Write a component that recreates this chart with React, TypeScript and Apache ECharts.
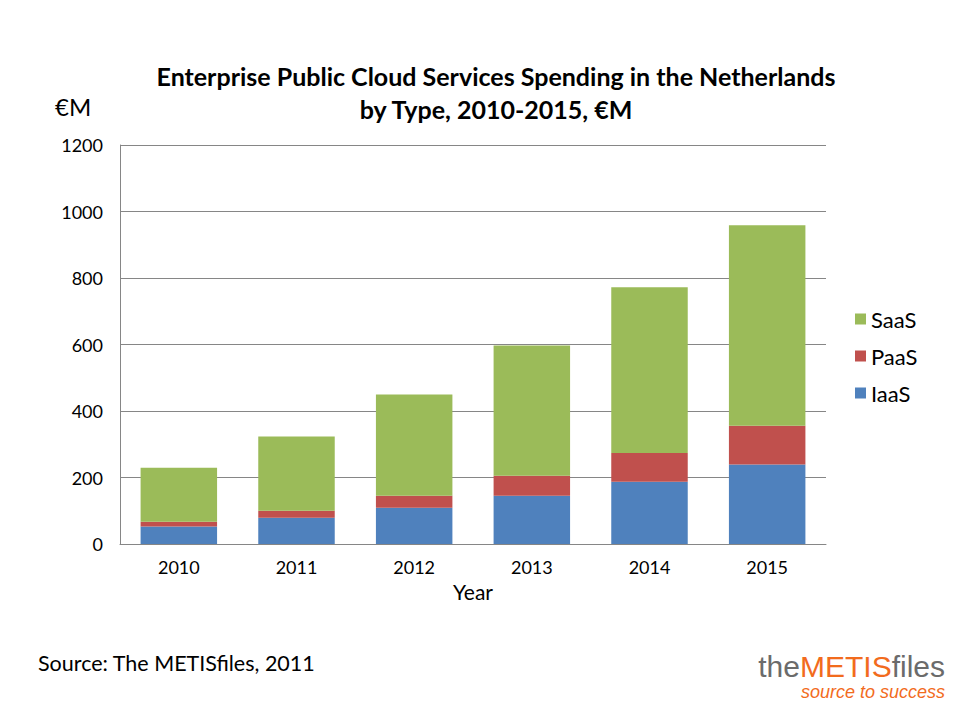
import React, { useEffect, useRef } from "react";
import * as echarts from "echarts";

const years = ["2010", "2011", "2012", "2013", "2014", "2015"];
const iaas = [53, 79, 109, 145, 187, 239];
const paas = [14, 21, 36, 60, 87, 117];
const saas = [162, 223, 305, 392, 498, 603];
const yTicks = { min: 0, max: 1200, interval: 200 };

const FONT = "Lato, 'Open Sans', sans-serif";
const GRAY = "#868686";

export default function App() {
  const ref = useRef<HTMLDivElement>(null);
  useEffect(() => {
    if (!ref.current) return;
    const chart = echarts.init(ref.current, undefined, { renderer: "svg" });
    chart.setOption({
      animation: false,
      backgroundColor: "#ffffff",
      textStyle: { fontFamily: FONT },
      title: {
        text: "Enterprise Public Cloud Services Spending in the Netherlands\nby Type, 2010-2015, €M",
        left: 491,
        top: 54,
        textAlign: "center",
        textStyle: { fontFamily: FONT, fontSize: 25, fontWeight: "bold", color: "#000", lineHeight: 33 },
      },
      legend: {
        orient: "vertical",
        left: 850,
        top: 303,
        data: ["SaaS", "PaaS", "IaaS"],
        itemWidth: 11,
        itemHeight: 11,
        itemGap: 15,
        icon: "rect",
        textStyle: { fontFamily: FONT, fontSize: 22, color: "#000", lineHeight: 22 },
      },
      grid: { left: 120, right: 134, top: 145, bottom: 176, containLabel: false },
      xAxis: {
        type: "category",
        data: years,
        axisLine: { lineStyle: { color: GRAY, width: 1 } },
        axisTick: { show: false },
        axisLabel: { color: "#000", fontSize: 18, fontFamily: FONT, margin: 14 },
        name: "Year",
        nameLocation: "middle",
        nameGap: 37,
        nameTextStyle: { color: "#000", fontSize: 21, fontFamily: FONT },
      },
      yAxis: {
        type: "value",
        min: yTicks.min,
        max: yTicks.max,
        interval: yTicks.interval,
        axisLine: { show: true, lineStyle: { color: GRAY, width: 1 } },
        axisTick: { show: false },
        splitLine: { lineStyle: { color: GRAY, width: 1 } },
        axisLabel: { color: "#000", fontSize: 18, fontFamily: FONT, margin: 17, formatter: (v: number) => String(v) },
      },
      series: [
        { name: "IaaS", type: "bar", stack: "t", data: iaas, itemStyle: { color: "#4f81bd" }, barCategoryGap: "35%" },
        { name: "PaaS", type: "bar", stack: "t", data: paas, itemStyle: { color: "#c0504d" } },
        { name: "SaaS", type: "bar", stack: "t", data: saas, itemStyle: { color: "#9bbb59" } },
      ],
      graphic: [
        {
          type: "text",
          left: 55,
          top: 94,
          style: { text: "€M", fontFamily: FONT, fontSize: 24, fill: "#000" },
        },
        {
          type: "text",
          left: 38,
          top: 652,
          style: { text: "Source: The METISfiles, 2011", fontFamily: FONT, fontSize: 21.5, fill: "#000" },
        },
        {
          type: "text",
          right: 15,
          top: 651,
          style: {
            text: "{a|the}{b|METIS}{a|files}",
            rich: {
              a: { fontFamily: "'Liberation Sans', Arial, sans-serif", fontSize: 30, lineHeight: 30, fill: "#6b6b6b" },
              b: { fontFamily: "'Liberation Sans', Arial, sans-serif", fontSize: 30, lineHeight: 30, fill: "#f26b1d" },
            },
          },
        },
        {
          type: "text",
          right: 15,
          top: 683,
          style: {
            text: "source to success",
            fontFamily: "'Liberation Sans', Arial, sans-serif",
            fontSize: 18,
            lineHeight: 18,
            fontStyle: "italic",
            fill: "#f26b1d",
          },
        },
      ],
    });
    return () => chart.dispose();
  }, []);
  return <div ref={ref} style={{ width: 960, height: 720, margin: -8 }} />;
}
